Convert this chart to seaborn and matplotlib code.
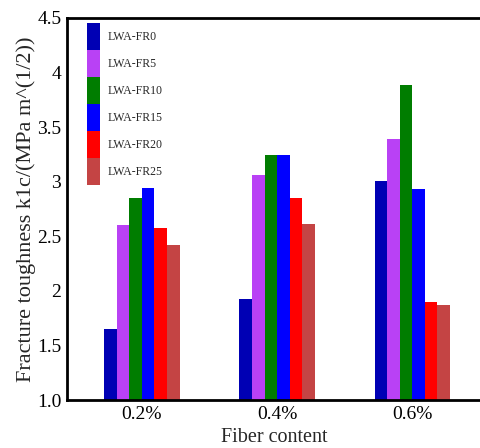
import numpy as np
import pandas as pd
import matplotlib
matplotlib.use("Agg")
import matplotlib.pyplot as plt
import seaborn as sns

# ── Data ──────────────────────────────────────────────────
fiber = ["0.2%", "0.4%", "0.6%"]
mixes = ["LWA-FR0", "LWA-FR5", "LWA-FR10", "LWA-FR15", "LWA-FR20", "LWA-FR25"]
fr0 = [1.65, 1.93, 3.01]
fr5 = [2.60, 3.06, 3.39]
fr10 = [2.85, 3.24, 3.89]
fr15 = [2.94, 3.24, 2.93]
fr20 = [2.58, 2.85, 1.90]
fr25 = [2.42, 2.61, 1.87]
y_ticks = [1.0, 1.5, 2.0, 2.5, 3.0, 3.5, 4.0, 4.5]
y_tick_labels = ["1.0", "1.5", "2", "2.5", "3", "3.5", "4", "4.5"]

COLORS = ["#0000b4", "#b941f5", "#007d00", "#0000ff", "#ff0000", "#c44444"]

rows = []
for mix, vals in zip(mixes, [fr0, fr5, fr10, fr15, fr20, fr25]):
    for f, v in zip(fiber, vals):
        rows.append({"Fiber": f, "Mix": mix, "K1c": v})
df = pd.DataFrame(rows)

# ── Style ─────────────────────────────────────────────────
sns.set_theme(style="white")
plt.rcParams["font.family"] = ["Liberation Serif", "DejaVu Serif"]

fig = plt.figure(figsize=(4.81, 4.48), dpi=100)
ax = fig.add_axes([0.139, 0.107, 0.861, 0.853])

sns.barplot(data=df, x="Fiber", y="K1c", hue="Mix", order=fiber,
            hue_order=mixes, palette=COLORS, width=0.556,
            saturation=1, linewidth=0, ax=ax, legend=True)

ax.set_ylim(1.0, 4.5)
ax.set_xlim(-0.556, 2.51)
ax.set_yticks(y_ticks)
ax.set_yticklabels(y_tick_labels)
ax.tick_params(axis="both", length=0, labelsize=14, colors="black", pad=4)
ax.set_xlabel("Fiber content", fontsize=14.5, labelpad=4)
ax.set_ylabel("Fracture toughness k1c/(MPa m^(1/2))", fontsize=16, labelpad=1)

for s in ["left", "bottom", "top"]:
    ax.spines[s].set_visible(True)
    ax.spines[s].set_color("black")
    ax.spines[s].set_linewidth(2)
ax.spines["right"].set_visible(False)

ax.legend(loc="upper left", bbox_to_anchor=(20 / 414, 1 - 5 / 382),
          frameon=False, fontsize=8.5, handlelength=1.1, handleheight=3.14,
          labelspacing=0, handletextpad=0.68, borderpad=0, borderaxespad=0)

fig.savefig("out.png", dpi=100)
